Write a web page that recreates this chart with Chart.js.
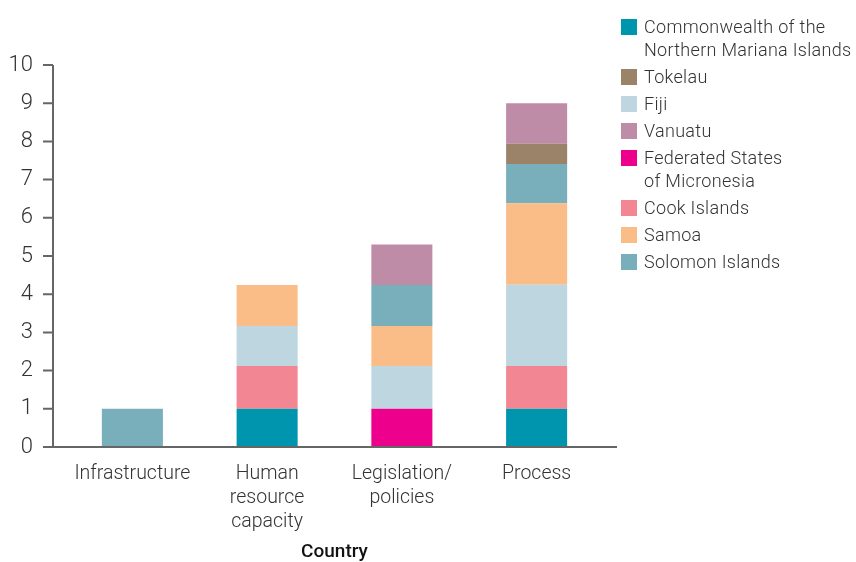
<!DOCTYPE html>
<html>
<head>
<meta charset="utf-8">
<script src="https://cdn.jsdelivr.net/npm/chart.js@4.4.1/dist/chart.umd.min.js"></script>
<style>
  body { margin: 0; background: #fff; }
  #wrap { position: relative; width: 856px; height: 562px; }
  #legend { position: absolute; left: 621px; top: 15px; font-family: Roboto, sans-serif; font-weight: 300; font-size: 18px; letter-spacing: 0.3px; line-height: 23px; color: #333; }
  .item { display: flex; align-items: flex-start; margin-bottom: 4px; }
  .box { width: 16px; height: 16px; margin: 4px 7px 0 0; flex: none; }
  .txt { white-space: pre-line; }
</style>
</head>
<body>
<div id="wrap">
  <canvas id="chart" width="856" height="562"></canvas>
  <div id="legend"></div>
</div>
<script>
// categories on the x axis
const categories = [["Infrastructure"], ["Human", "resource", "capacity"], ["Legislation/", "policies"], ["Process"]];
const yTicks = [0, 1, 2, 3, 4, 5, 6, 7, 8, 9, 10];

// one array per country, bottom of the stack first
const cnmi = [null, 1, null, 1];
const fsm = [null, null, 1, null];
const cookIslands = [null, 1.12, null, 1.12];
const fiji = [null, 1.05, 1.12, 2.13];
const samoa = [null, 1.07, 1.05, 2.13];
const solomonIslands = [1, null, 1.07, 1.03];
const tokelau = [null, null, null, 0.53];
const vanuatu = [null, null, 1.06, 1.06];

const legendOrder = ["cnmi", "tokelau", "fiji", "vanuatu", "fsm", "cook", "samoa", "solomon"];

const series = [
  { key: "cnmi", label: "Commonwealth of the\nNorthern Mariana Islands", data: cnmi, color: "#0095ae" },
  { key: "fsm", label: "Federated States\nof Micronesia", data: fsm, color: "#ec008c" },
  { key: "cook", label: "Cook Islands", data: cookIslands, color: "#f38693" },
  { key: "fiji", label: "Fiji", data: fiji, color: "#bed6df" },
  { key: "samoa", label: "Samoa", data: samoa, color: "#fbbd88" },
  { key: "solomon", label: "Solomon Islands", data: solomonIslands, color: "#79aebb" },
  { key: "tokelau", label: "Tokelau", data: tokelau, color: "#9a8368" },
  { key: "vanuatu", label: "Vanuatu", data: vanuatu, color: "#bf8ca7" },
];

const AXIS = "#666";
const TEXT = "#333";

// axis lines drawn a bit outside the plot area, like the original
const axesPlugin = {
  id: "axes",
  afterDatasetsDraw(chart) {
    const ctx = chart.ctx;
    const area = chart.chartArea;
    const yScale = chart.scales.y;
    const ax = area.left - 12;
    ctx.save();
    ctx.strokeStyle = AXIS;
    ctx.lineWidth = 2;
    ctx.beginPath();
    ctx.moveTo(ax, yScale.getPixelForValue(10));
    ctx.lineTo(ax, area.bottom);
    ctx.lineTo(area.right + 13, area.bottom);
    yTicks.forEach((v) => {
      const py = yScale.getPixelForValue(v);
      ctx.moveTo(ax - 10, py);
      ctx.lineTo(ax, py);
    });
    ctx.stroke();
    ctx.restore();
  },
};

const chart = new Chart(document.getElementById("chart"), {
  type: "bar",
  data: {
    labels: categories,
    datasets: series.map((s) => ({
      label: s.label,
      data: s.data,
      backgroundColor: s.color,
      borderWidth: 0,
      barPercentage: 0.453,
      categoryPercentage: 1,
    })),
  },
  options: {
    responsive: false,
    animation: false,
    layout: { padding: { left: 0, right: 252, top: 65, bottom: 0 } },
    plugins: { legend: { display: false }, tooltip: { enabled: false } },
    scales: {
      x: {
        stacked: true,
        grid: { display: false, drawTicks: false },
        border: { display: false },
        ticks: {
          color: TEXT,
          padding: 15,
          maxRotation: 0,
          autoSkip: false,
          font: { family: "Roboto", weight: 300, size: 19.5, lineHeight: 24 / 19.5 },
        },
        title: {
          display: true,
          text: "Country",
          color: "#111",
          padding: { top: 0, bottom: 0 },
          font: { family: "Roboto", weight: 500, size: 19, lineHeight: 1.0 },
        },
        afterFit(scale) { scale.height = 115; },
      },
      y: {
        stacked: true,
        min: 0,
        max: 10,
        grid: { display: false, drawTicks: false },
        border: { display: false },
        ticks: {
          stepSize: 1,
          color: TEXT,
          padding: 32,
          font: { family: "Roboto", weight: 300, size: 22 },
        },
        afterFit(scale) { scale.width = 65; },
      },
    },
  },
  plugins: [axesPlugin],
});

// legend, in the order of the original
const legendEl = document.getElementById("legend");
legendOrder.forEach((key) => {
  const s = series.find((d) => d.key === key);
  const item = document.createElement("div");
  item.className = "item";
  item.innerHTML = '<span class="box" style="background:' + s.color + '"></span><span class="txt"></span>';
  item.querySelector(".txt").textContent = s.label;
  legendEl.appendChild(item);
});
</script>
</body>
</html>
